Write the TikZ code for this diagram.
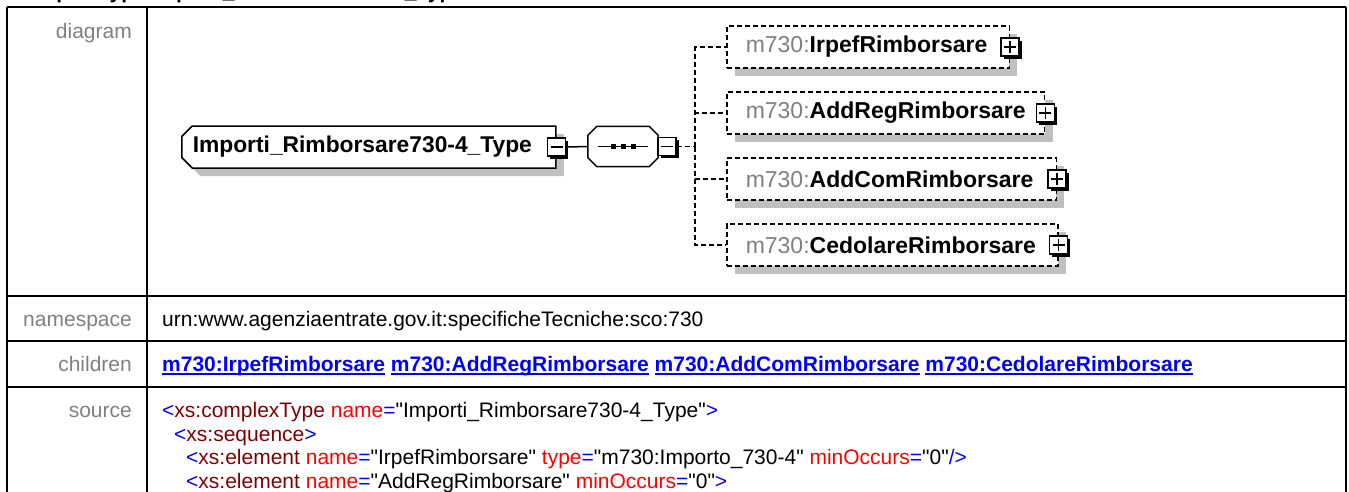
\documentclass[tikz,border=0pt]{standalone}
\usepackage{fontspec}
\setmainfont{Liberation Sans}[Ligatures=TeXOff]
\usepackage{xcolor}
\usetikzlibrary{shapes.misc, shadows, positioning}

\definecolor{lblgray}{RGB}{128,128,128}
\definecolor{shgray}{RGB}{192,192,192}
\definecolor{linkblue}{RGB}{0,0,255}
\definecolor{xmaroon}{RGB}{128,0,0}
\definecolor{xred}{RGB}{255,0,0}

\newsavebox{\lnkbox}
\newcommand{\lnk}[1]{\sbox\lnkbox{#1}\rlap{\rule[-3pt]{\wd\lnkbox}{1.6pt}}\usebox\lnkbox}
\newcommand{\sMk}[1]{\textcolor{linkblue}{#1}}
\newcommand{\sTag}[1]{\textcolor{xmaroon}{#1}}
\newcommand{\sAtt}[1]{\textcolor{xred}{#1}}
\newcommand{\sVal}[1]{\textcolor{black}{#1}}
\newcommand{\pfx}{\textcolor{lblgray}{\mdseries m730:}}
% octagon round a node, chamfer 9
\newcommand{\octa}[1]{([xshift=9pt]#1.north west) -- ([xshift=-9pt]#1.north east) -- ([yshift=-9pt]#1.north east)
  -- ([yshift=9pt]#1.south east) -- ([xshift=-9pt]#1.south east) -- ([xshift=9pt]#1.south west)
  -- ([yshift=9pt]#1.south west) -- ([yshift=-9pt]#1.north west) -- cycle}

\begin{document}
\begin{tikzpicture}[
  x=1pt, y=-1pt,
  font=\fontsize{21}{25}\selectfont,
  grid/.style={line width=2pt},
  lbl/.style={anchor=base east, text=lblgray, inner sep=0pt},
  val/.style={anchor=base west, inner sep=0pt},
  shd/.style={drop shadow={shadow xshift=8pt, shadow yshift=-8pt, fill=shgray, opacity=1}},
  ctype/.style={chamfered rectangle, chamfered rectangle corners={north west,south west},
    chamfered rectangle xsep=7pt, draw, fill=white, line width=1.5pt, minimum height=42pt,
    inner xsep=4pt, inner ysep=0pt, font=\fontsize{22.8}{27}\selectfont\bfseries, shd},
  seqbox/.style={minimum width=70pt, minimum height=40pt, inner sep=0pt},
  elem/.style={draw, dash pattern=on 5pt off 3pt, line width=1.5pt, fill=white,
    minimum height=42pt, inner xsep=19pt, inner ysep=0pt,
    font=\fontsize{23}{27}\selectfont\bfseries, shd},
  tgl/.style={draw, fill=white, line width=1.3pt, minimum size=18pt, inner sep=0pt,
    drop shadow={shadow xshift=2.5pt, shadow yshift=-2.5pt, fill=black, opacity=1}},
  collapse/.style={tgl, path picture={
    \draw[line width=1.3pt] ([xshift=3pt]path picture bounding box.west) -- ([xshift=-3pt]path picture bounding box.east);}},
  expand/.style={tgl, path picture={
    \draw[line width=1.3pt] ([xshift=3pt]path picture bounding box.west) -- ([xshift=-3pt]path picture bounding box.east);
    \draw[line width=1.3pt] ([yshift=-3pt]path picture bounding box.north) -- ([yshift=3pt]path picture bounding box.south);}},
  sline/.style={line width=1.5pt},
  dline/.style={line width=1.5pt, dash pattern=on 5pt off 3pt}
]
\useasboundingbox (0,0) rectangle (1349,491);

% Heading (cut off at the top)
\node[val, font=\fontsize{21}{25}\selectfont\bfseries] (hdr) at (13,-2) {complexType Importi\_Rimborsare730-4\_Type};

% Table grid
\draw[grid] (7,7) -- (1346,7);
\draw[grid] (7,7) -- (7,495);
\draw[grid] (147,7) -- (147,495);
\draw[grid] (1346,7) -- (1346,495);
\foreach \y in {296,341,387}
  \draw[grid] (7,\y) -- (1346,\y);

% Row labels
\node[lbl] (ldia) at (132,38) {diagram};
\node[lbl] (lns) at (132,326) {namespace};
\node[lbl] (lch) at (132,371.5) {children};
\node[lbl] (lsrc) at (132,417) {source};

% Diagram
\node[ctype, anchor=west] (ct) at (181,147) {Importi\_Rimborsare730-4\_Type\hspace*{13pt}};
\node[collapse] (ctm) at (ct.east) {};
\node[seqbox] (seq) at (623,146.5) {};
\fill[shgray, xshift=8pt, yshift=-8pt] \octa{seq};
\filldraw[sline, fill=white] \octa{seq};
\draw[line width=1.3pt] ([xshift=-25pt]seq.center) -- ([xshift=25pt]seq.center);
\foreach \dx in {-10,0,10}
  \fill ([xshift=\dx pt]seq.center) +(-2.5,-2.5) rectangle +(2.5,2.5);
\node[collapse] (seqm) at (667,146.5) {};

\node[elem, anchor=west] (k1) at (726,47) {\pfx IrpefRimborsare\hspace*{3pt}};
\node[elem, anchor=west] (k2) at (726,113) {\pfx AddRegRimborsare};
\node[elem, anchor=west] (k3) at (726,179) {\pfx AddComRimborsare\hspace*{4pt}};
\node[elem, anchor=west] (k4) at (726,245) {\pfx CedolareRimborsare\hspace*{3pt}};
\foreach \k in {k1,k2,k3,k4}
  \node[expand] (\k p) at (\k.east) {};

% Connectors
\coordinate (fork) at (695,146.5);
\draw[sline] (ctm.east) -- (seq.west);
\draw[dline] (seqm.east) -- (fork);
\foreach \k in {k1,k2,k3,k4}
  \draw[dline] (fork) |- (\k.west);

% Namespace and children
\node[val] (ns) at (162,326) {urn:www.agenziaentrate.gov.it:specificheTecniche:sco:730};
\node[val, text=linkblue, font=\fontsize{21}{25}\selectfont\bfseries] (kids) at (162,371.5)
  {\lnk{m730:IrpefRimborsare} \lnk{m730:AddRegRimborsare} \lnk{m730:AddComRimborsare} \lnk{m730:CedolareRimborsare}};

% Source
\node[val] (s1) at (162,417) {\sMk{<}\sTag{xs:complexType} \sAtt{name}\sMk{=}\sVal{"Importi\_Rimborsare730-4\_Type"}\sMk{>}};
\node[val] (s2) at (174,441) {\sMk{<}\sTag{xs:sequence}\sMk{>}};
\node[val] (s3) at (186,464.5) {\sMk{<}\sTag{xs:element} \sAtt{name}\sMk{=}\sVal{"IrpefRimborsare"} \sAtt{type}\sMk{=}\sVal{"m730:Importo\_730-4"} \sAtt{minOccurs}\sMk{=}\sVal{"0"}\sMk{/>}};
\node[val] (s4) at (186,488) {\sMk{<}\sTag{xs:element} \sAtt{name}\sMk{=}\sVal{"AddRegRimborsare"} \sAtt{minOccurs}\sMk{=}\sVal{"0"}\sMk{>}};

\end{tikzpicture}
\end{document}
